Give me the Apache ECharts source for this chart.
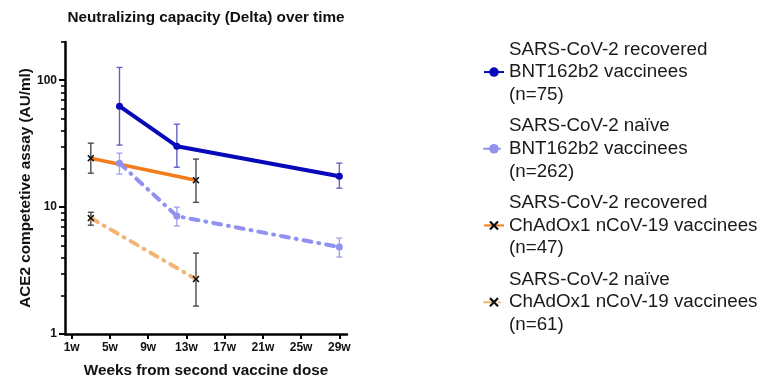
<!DOCTYPE html>
<html><head><meta charset="utf-8">
<script src="https://cdn.jsdelivr.net/npm/echarts@6/dist/echarts.min.js"></script>
<style>html,body{margin:0;padding:0;background:#fff}#c{width:763px;height:377px}</style>
</head><body><div id="c"></div>
<script>
// ---- data ----
const seriesNames = [
  'SARS-CoV-2 recovered\nBNT162b2 vaccinees\n(n=75)',
  'SARS-CoV-2 naïve\nBNT162b2 vaccinees\n(n=262)',
  'SARS-CoV-2 recovered\nChAdOx1 nCoV-19 vaccinees\n(n=47)',
  'SARS-CoV-2 naïve\nChAdOx1 nCoV-19 vaccinees\n(n=61)'
];
const recBntWeeks = [6, 12, 29];
const recBntMean = [62.4, 30.2, 17.5];
const recBntLow = [30.8, 20.6, 14.1];
const recBntHigh = [126, 45, 22.2];

const naiveBntWeeks = [6, 12, 29];
const naiveBntMean = [22.2, 8.5, 4.84];
const naiveBntLow = [18.2, 7.1, 4.04];
const naiveBntHigh = [26.6, 10.0, 5.7];

const recChWeeks = [3, 14];
const recChMean = [24.3, 16.3];
const recChLow = [18.5, 10.9];
const recChHigh = [31.9, 23.9];

const naiveChWeeks = [3, 14];
const naiveChMean = [8.2, 2.71];
const naiveChLow = [7.2, 1.66];
const naiveChHigh = [9.1, 4.34];

const xTickWeeks = [1, 5, 9, 13, 17, 21, 25, 29];
const yMajorTicks = [1, 10, 100];
const yMinorTicks = [2, 3, 4, 5, 6, 7, 8, 9, 20, 30, 40, 50, 60, 70, 80, 90, 200];

// ---- build ----
const FONT = '"Liberation Sans", Arial, sans-serif';
const xSym = 'path://M0,1.6L1.6,0L5,3.4L8.4,0L10,1.6L6.6,5L10,8.4L8.4,10L5,6.6L1.6,10L0,8.4L3.4,5Z';
function pts(w, m) { return w.map((x, i) => [x, m[i]]); }
function errData(w, lo, hi) { return w.map((x, i) => [x, lo[i], hi[i]]); }
function errSeries(w, lo, hi, color) {
  return {
    type: 'custom', xAxisIndex: 0, yAxisIndex: 0, z: 1, silent: true,
    data: errData(w, lo, hi),
    encode: { x: 0, y: [1, 2] },
    renderItem: function (params, api) {
      const x = api.value(0);
      const a = api.coord([x, api.value(1)]);
      const b = api.coord([x, api.value(2)]);
      const hw = 3;
      const st = { stroke: color, lineWidth: 1.4 };
      return {
        type: 'group', children: [
          { type: 'line', shape: { x1: a[0], y1: a[1], x2: b[0], y2: b[1] }, style: st },
          { type: 'line', shape: { x1: a[0] - hw, y1: a[1], x2: a[0] + hw, y2: a[1] }, style: st },
          { type: 'line', shape: { x1: b[0] - hw, y1: b[1], x2: b[0] + hw, y2: b[1] }, style: st }
        ]
      };
    }
  };
}
const dashDot = [8, 7, 1, 7];

const option = {
  backgroundColor: '#fff',
  animation: false,
  textStyle: { fontFamily: FONT },
  title: {
    text: 'Neutralizing capacity (Delta) over time',
    left: 201, top: 5, textAlign: 'center',
    textStyle: { fontSize: 15.3, fontWeight: 'bold', color: '#111', fontFamily: FONT }
  },
  legend: {
    orient: 'vertical', left: 478, top: 33,
    itemWidth: 20, itemHeight: 12, itemGap: 8.6,
    data: seriesNames,
    textStyle: { fontSize: 18.8, lineHeight: 22.7, color: '#1a1a1a', fontFamily: FONT }
  },
  grid: { left: 65, top: 42, width: 282, height: 292, containLabel: false, outerBoundsMode: 'none' },
  xAxis: {
    type: 'value', min: 0.3, max: 29.8,
    name: 'Weeks from second vaccine dose', nameLocation: 'middle', nameGap: 29,
    nameTextStyle: { fontSize: 15.3, fontWeight: 'bold', color: '#111', fontFamily: FONT },
    axisLine: { show: true, onZero: false, lineStyle: { color: '#000', width: 2.5 } },
    axisTick: { show: true, length: 5, customValues: xTickWeeks, lineStyle: { color: '#000', width: 2 } },
    axisLabel: { customValues: xTickWeeks, formatter: '{value}w', margin: 8, fontSize: 12, fontWeight: 'bold', color: '#111', fontFamily: FONT },
    splitLine: { show: false }
  },
  yAxis: [{
    type: 'log', logBase: 10, position: 'left', offset: 0, min: 1, max: 200,
    name: 'ACE2 competetive assay (AU/ml)', nameLocation: 'middle', nameGap: 27,
    nameTextStyle: { fontSize: 15.3, fontWeight: 'bold', color: '#111', fontFamily: FONT },
    axisLine: { show: true, onZero: false, lineStyle: { color: '#000', width: 2.5 } },
    axisTick: { show: true, length: 6, customValues: yMajorTicks, lineStyle: { color: '#000', width: 2 } },
    axisLabel: { customValues: yMajorTicks, margin: 8, fontSize: 12, fontWeight: 'bold', color: '#111', fontFamily: FONT },
    splitLine: { show: false }, minorTick: { show: false }
  }, {
    type: 'log', logBase: 10, position: 'left', offset: 0, min: 1, max: 200,
    axisLine: { show: false },
    axisTick: { show: true, length: 4, customValues: yMinorTicks, lineStyle: { color: '#000', width: 1.6 } },
    axisLabel: { show: false },
    splitLine: { show: false }
  }],
  series: [
    errSeries(recBntWeeks, recBntLow, recBntHigh, '#6262c6'),
    errSeries(naiveBntWeeks, naiveBntLow, naiveBntHigh, '#a4a4ee'),
    errSeries(recChWeeks, recChLow, recChHigh, '#4a4a4a'),
    errSeries(naiveChWeeks, naiveChLow, naiveChHigh, '#4a4a4a'),
    {
      name: seriesNames[0], type: 'line', z: 4, data: pts(recBntWeeks, recBntMean),
      symbol: 'circle', symbolSize: 7,
      itemStyle: { color: '#0808bb' },
      lineStyle: { color: '#0808bb', width: 4 }
    },
    {
      name: seriesNames[1], type: 'line', z: 3, data: pts(naiveBntWeeks, naiveBntMean),
      symbol: 'circle', symbolSize: 7,
      itemStyle: { color: '#9191ef' },
      lineStyle: { color: '#9191ef', width: 4, type: dashDot, cap: 'round' }
    },
    {
      name: seriesNames[2], type: 'line', z: 2, data: pts(recChWeeks, recChMean),
      symbol: xSym, symbolSize: 7,
      itemStyle: { color: '#111' },
      lineStyle: { color: '#f47c1a', width: 3.5 }
    },
    {
      name: seriesNames[3], type: 'line', z: 2, data: pts(naiveChWeeks, naiveChMean),
      symbol: xSym, symbolSize: 7,
      itemStyle: { color: '#111' },
      lineStyle: { color: '#f5b474', width: 4, type: dashDot, cap: 'round' }
    }
  ]
};
const chart = echarts.init(document.getElementById('c'), null, { renderer: 'canvas' });
chart.setOption(option);
</script>
</body></html>
